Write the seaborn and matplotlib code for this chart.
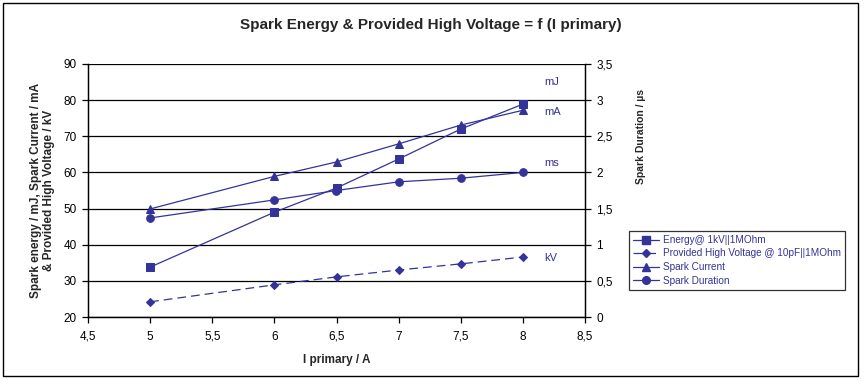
import numpy as np
import matplotlib
matplotlib.use("Agg")
import matplotlib.pyplot as plt
from matplotlib.ticker import FuncFormatter, MultipleLocator
from matplotlib.patches import Rectangle
from matplotlib.lines import Line2D
import pandas as pd
import seaborn as sns

# data
i_primary = [5, 6, 6.5, 7, 7.5, 8]
energy_mj = [33.8, 49.0, 55.7, 63.7, 72.0, 78.9]
voltage_kv = [24.2, 28.9, 31.1, 33.0, 34.7, 36.6]
current_ma = [49.9, 58.9, 62.9, 67.9, 73.1, 77.2]
duration_us = [1.37, 1.62, 1.75, 1.87, 1.92, 2.0]

series_names = ["Energy@ 1kV||1MOhm", "Provided High Voltage @ 10pF||1MOhm",
                "Spark Current", "Spark Duration"]
end_labels = ["mJ", "kV", "mA", "ms"]

navy = "#333399"

sns.set_style("white")
plt.rcParams['font.family'] = ['Liberation Sans', 'DejaVu Sans']


def comma_fmt(v, pos):
    return f"{v:g}".replace('.', ',')


fig = plt.figure(figsize=(8.64, 3.81), dpi=100)
ax = fig.add_axes([88/864, 1 - 317/381, (585 - 88)/864, (317 - 64)/381])
ax2 = ax.twinx()

df = pd.DataFrame({"I": i_primary, "energy": energy_mj, "voltage": voltage_kv,
                   "current": current_ma, "duration": duration_us})

sns.lineplot(data=df, x="I", y="energy", ax=ax, color=navy, lw=0.9,
             marker="s", markersize=5.5, markeredgecolor=navy)
sns.lineplot(data=df, x="I", y="voltage", ax=ax, color=navy, lw=0.9,
             marker="D", markersize=4.5, markeredgecolor=navy, dashes=False,
             linestyle=(0, (7, 4)))
sns.lineplot(data=df, x="I", y="current", ax=ax, color=navy, lw=0.9,
             marker="^", markersize=6, markeredgecolor=navy)
sns.lineplot(data=df, x="I", y="duration", ax=ax2, color=navy, lw=0.9,
             marker="o", markersize=5.5, markeredgecolor=navy)

ax.set_xlim(4.5, 8.5)
ax.set_ylim(20, 90)
ax2.set_ylim(0, 3.5)
ax.xaxis.set_major_locator(MultipleLocator(0.5))
ax.yaxis.set_major_locator(MultipleLocator(10))
ax2.yaxis.set_major_locator(MultipleLocator(0.5))
for a in (ax.xaxis, ax.yaxis, ax2.yaxis):
    a.set_major_formatter(FuncFormatter(comma_fmt))

ax.grid(axis="y", color="black", lw=0.9)
ax.grid(axis="x", visible=False)
ax.set_axisbelow(True)
for a in (ax, ax2):
    a.spines["top"].set_visible(False)
    for s in ("left", "bottom", "right"):
        a.spines[s].set_color("black")
        a.spines[s].set_linewidth(0.9)
ax.tick_params(axis="both", direction="out", length=4, width=0.9, labelsize=8.5,
               left=True, bottom=True, colors="black", pad=4)
ax.tick_params(axis="x", pad=6)
ax2.tick_params(axis="y", direction="out", length=4, width=0.9, labelsize=8.5,
                right=True, colors="black", pad=4)

ax.set_xlabel("I primary / A", fontsize=8.5, fontweight="bold", labelpad=8)
ax.set_ylabel("Spark energy / mJ, Spark Current / mA\n& Provided High Voltage / kV",
              fontsize=8.5, fontweight="bold", labelpad=6, linespacing=1.1)
ax2.set_ylabel("")

# unit labels next to the last points
unit_y = [energy_mj[-1] + 6, voltage_kv[-1] - 0.2, current_ma[-1] - 0.5,
          duration_us[-1] * 20 + 20 + 2.6]
for lab, yv in zip(end_labels, unit_y):
    ax.text(8.17, yv, lab, color=navy, fontsize=8, va="center", ha="left")

fig.text(431/864, 1 - 25/381, "Spark Energy & Provided High Voltage = f (I primary)",
         fontsize=11, fontweight="bold", ha="center", va="center")
fig.text(641/864, 1 - 137/381, "Spark Duration / µs", rotation=90,
         fontsize=7.5, fontweight="bold", ha="center", va="center")

handles = [
    Line2D([], [], color=navy, lw=0.9, marker="s", markersize=5.5),
    Line2D([], [], color=navy, lw=0.9, marker="D", markersize=4.5, linestyle=(0, (7, 4))),
    Line2D([], [], color=navy, lw=0.9, marker="^", markersize=6),
    Line2D([], [], color=navy, lw=0.9, marker="o", markersize=5.5),
]
leg = fig.legend(handles, series_names, loc="upper left",
                 bbox_to_anchor=(624/864, 1 - 226/381), fontsize=7.2,
                 frameon=True, fancybox=False, edgecolor="black",
                 handlelength=2.6, handletextpad=0.4, labelspacing=0.35,
                 borderpad=0.4, labelcolor=navy)
leg.get_frame().set_linewidth(0.9)

fig.patches.append(Rectangle((3/864, 5/381), 855/864, 373/381, transform=fig.transFigure,
                             fill=False, edgecolor="black", lw=1))

fig.savefig("out.png", dpi=100)
